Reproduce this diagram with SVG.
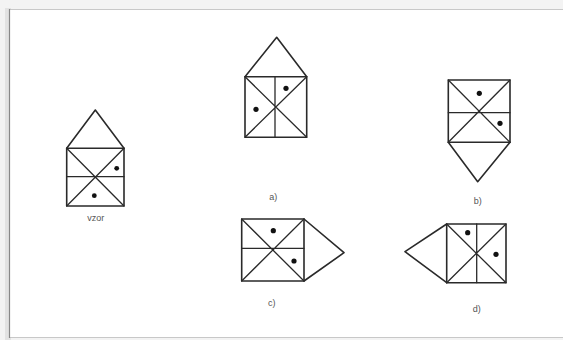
<svg xmlns="http://www.w3.org/2000/svg" width="563" height="340" viewBox="0 0 563 340">
<style>
.s{fill:none;stroke:#2a2a2a;stroke-width:1.6;stroke-linejoin:round;stroke-linecap:round}
.t{stroke-width:1.3}
.d{fill:#111}
.l{font-family:"Liberation Sans",Arial,sans-serif;font-size:9px;fill:#555;text-anchor:middle}
</style>
<rect x="0" y="0" width="563" height="340" fill="#f3f3f3"/>
<rect x="5" y="8" width="6" height="332" fill="#e2e2e2"/>
<rect x="9.5" y="9.5" width="560" height="328" fill="#fff" stroke="#c8c8c8" stroke-width="1"/>
<line x1="9.5" y1="9" x2="9.5" y2="338" stroke="#888" stroke-width="1.2"/>

<g id="vzor">
<path class="s" d="M66.7,148.3 L95.3,110 L124,148.3"/>
<rect class="s" x="66.7" y="148.3" width="57.3" height="57.7"/>
<path class="s t" d="M66.7,176.7 H124 M66.7,148.3 L124,206 M124,148.3 L66.7,206"/>
<circle class="d" cx="116.7" cy="168.3" r="2.4"/>
<circle class="d" cx="94.3" cy="195.7" r="2.4"/>
<text class="l" x="95.7" y="221">vzor</text>
</g>

<g id="a">
<path class="s" d="M245,76.7 L276.7,37.3 L306.7,76.7"/>
<rect class="s" x="245" y="76.7" width="61.7" height="60.6"/>
<path class="s t" d="M275,76.7 V137.3 M245,76.7 L306.7,137.3 M306.7,76.7 L245,137.3"/>
<circle class="d" cx="286" cy="88.3" r="2.6"/>
<circle class="d" cx="256" cy="109.3" r="2.6"/>
<text class="l" x="273.3" y="200">a)</text>
</g>

<g id="b">
<path class="s" d="M448.3,142.3 L477.7,181.7 L510,142.3"/>
<rect class="s" x="448.3" y="80" width="61.7" height="62.3"/>
<path class="s t" d="M448.3,112.7 H510 M448.3,80 L510,142.3 M510,80 L448.3,142.3"/>
<circle class="d" cx="479.3" cy="93.3" r="2.6"/>
<circle class="d" cx="500" cy="123.3" r="2.6"/>
<text class="l" x="477.7" y="204">b)</text>
</g>

<g id="c">
<path class="s" d="M304,219 L344,252.7 L304,281"/>
<rect class="s" x="241.7" y="219" width="62.3" height="62"/>
<path class="s t" d="M241.7,248.3 H304 M241.7,219 L304,281 M304,219 L241.7,281"/>
<circle class="d" cx="273.3" cy="230.7" r="2.6"/>
<circle class="d" cx="294" cy="261" r="2.6"/>
<text class="l" x="271.7" y="306">c)</text>
</g>

<g id="d">
<path class="s" d="M446.7,224 L405,251.7 L446.7,282.7"/>
<rect class="s" x="446.7" y="224" width="59.3" height="58.7"/>
<path class="s t" d="M476.7,224 V282.7 M446.7,224 L506,282.7 M506,224 L446.7,282.7"/>
<circle class="d" cx="467.7" cy="232.7" r="2.6"/>
<circle class="d" cx="496" cy="254.3" r="2.6"/>
<text class="l" x="476.7" y="312">d)</text>
</g>
</svg>
